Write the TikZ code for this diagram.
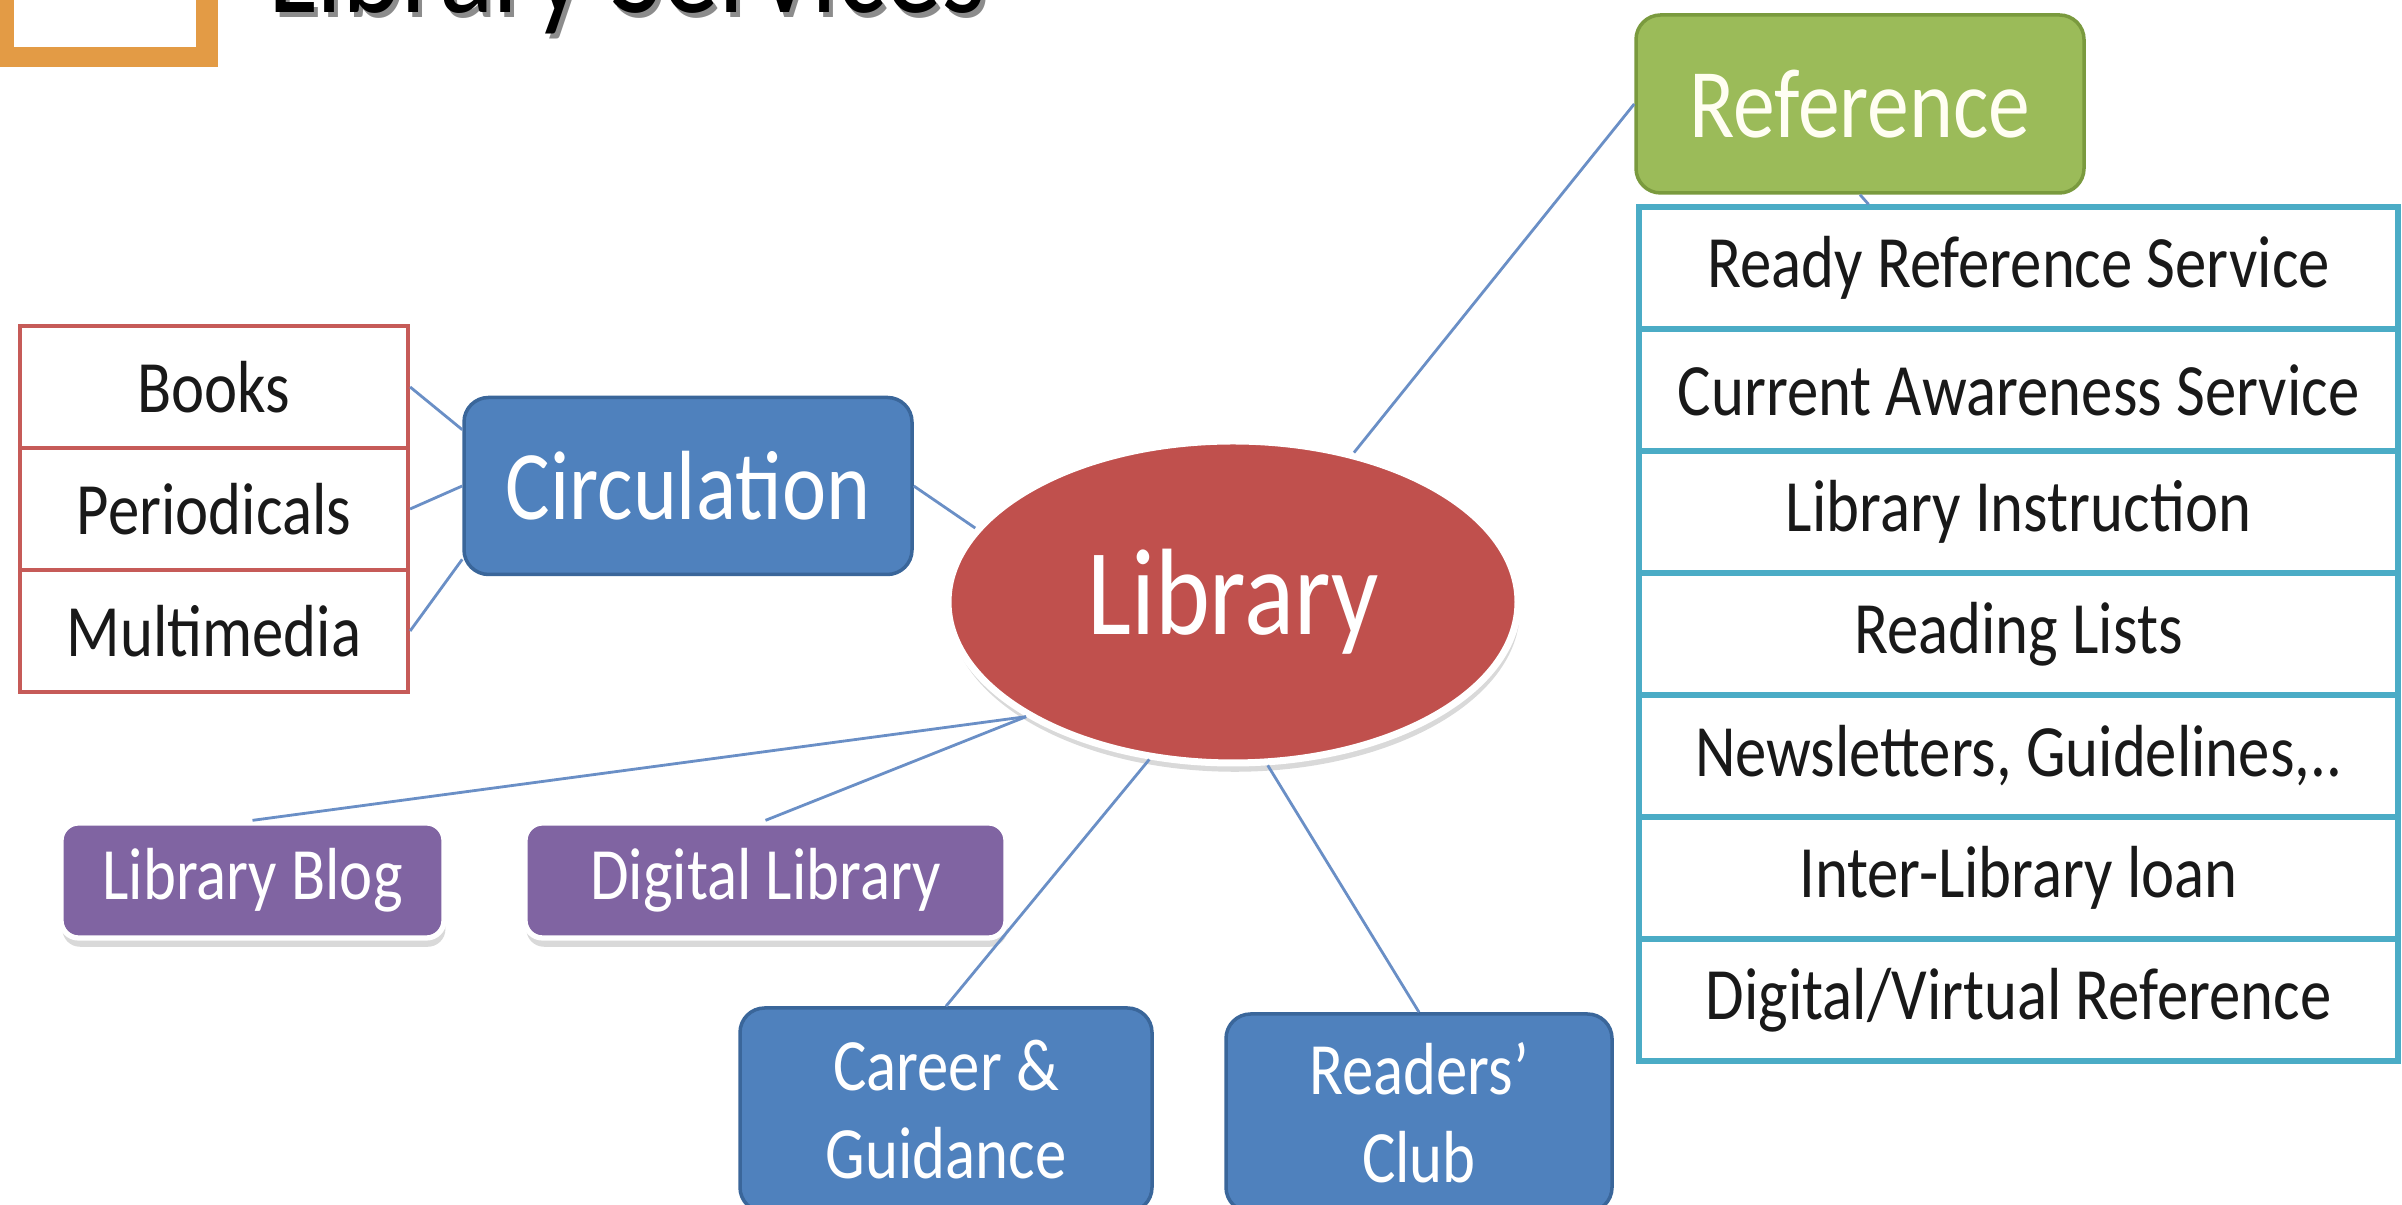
\documentclass[tikz,border=0pt]{standalone}
\usepackage{fontspec}
\setmainfont[FakeStretch=0.85]{Carlito}
\usetikzlibrary{shapes.geometric,shadows}

\definecolor{circblue}{HTML}{4F81BD}
\definecolor{circedge}{HTML}{3A669A}
\definecolor{libred}{HTML}{C0504D}
\definecolor{refgreen}{HTML}{9BBB59}
\definecolor{refedge}{HTML}{7A9A3E}
\definecolor{webpurple}{HTML}{8064A2}
\definecolor{listcyan}{HTML}{4BACC6}
\definecolor{listred}{HTML}{C65B58}
\definecolor{linkblue}{HTML}{6A8FC6}
\definecolor{frameorange}{HTML}{E39B45}

\begin{document}
\begin{tikzpicture}[
    bigfont/.style={font=\fontsize{28}{32}\selectfont},
    smallfont/.style={font=\fontsize{21}{25}\selectfont},
    bluebox/.style={rectangle, rounded corners=7pt, fill=circblue, draw=circedge, line width=1pt,
        text=white, inner sep=0pt, align=center},
    webbox/.style={rectangle, rounded corners=5pt, fill=webpurple, draw=white, line width=1.5pt,
        text=white, inner sep=0pt, smallfont, minimum height=1.15cm,
        drop shadow={shadow xshift=0.4pt, shadow yshift=-2.5pt, opacity=0.3}},
    circitem/.style={rectangle, draw=listred, line width=1.2pt, fill=white, text=black!90,
        inner sep=0pt, smallfont, minimum width=3.88cm, minimum height=1.22cm},
    refitem/.style={rectangle, draw=listcyan, line width=1.5pt, fill=white, text=black!90,
        inner sep=0pt, smallfont, minimum width=7.59cm, minimum height=1.22cm},
    link/.style={draw=linkblue, line width=0.8pt}
  ]
  \useasboundingbox (0,0) rectangle (24.02,12.05);

  \fill[frameorange] (-0.1,11.38) rectangle (2.18,12.2);
  \fill[white] (0.14,11.58) rectangle (1.96,12.2);
  \node[anchor=base west, text=black!45, font=\fontsize{38}{42}\selectfont] (titleshadow) at (2.6,11.87) {Library Services};
  \node[anchor=base west, text=black, font=\fontsize{38}{42}\selectfont] (title) at (2.56,11.92) {Library Services};

  \node[ellipse, fill=libred, draw=white, line width=2pt, text=white, inner sep=0pt,
    minimum width=5.7cm, minimum height=3.22cm, font=\fontsize{35}{40}\selectfont,
    drop shadow={shadow xshift=0.5pt, shadow yshift=-2.5pt, opacity=0.3}] (lib) at (12.33,6.03) {Library};

  \node[bluebox, bigfont, minimum width=4.48cm, minimum height=1.77cm] (circ) at (6.88,7.19) {Circulation};
  \node[bluebox, bigfont, fill=refgreen, draw=refedge, text=white!95!yellow,
    minimum width=4.48cm, minimum height=1.78cm] (ref) at (18.60,11.01) {Reference};

  \node[circitem] (books) at (2.14,8.18) {Books};
  \node[circitem] (period) at (2.14,6.96) {Periodicals};
  \node[circitem] (multi) at (2.14,5.74) {Multimedia};

  \foreach \txt [count=\i] in {Ready Reference Service, Current Awareness Service,
      Library Instruction, Reading Lists, {Newsletters, Guidelines,..},
      Inter-Library loan, Digital/Virtual Reference}
    \node[refitem] (rs\i) at (20.185,{9.37-1.22*(\i-1)}) {\txt};

  \node[webbox, minimum width=3.83cm] (blog) at (2.525,3.245) {Library Blog};
  \node[webbox, minimum width=4.81cm] (dlib) at (7.655,3.245) {Digital Library};

  \node[bluebox, smallfont, minimum width=4.12cm, minimum height=2.04cm] (career) at (9.46,0.95) {Career \&\\Guidance};
  \node[bluebox, smallfont, minimum width=3.86cm, minimum height=1.98cm] (readers) at (14.19,0.92) {Readers’\\Club};

  \draw[link] (books.east) -- (circ.166);
  \draw[link] (period.east) -- (circ.west);
  \draw[link] (multi.east) -- (circ.198);
  \draw[link] (circ.east) -- (lib.164);
  \draw[link] (lib.51) -- (ref.west);
  \draw[link] (ref.south) -- (rs1.157);
  \draw[link] (lib.209) -- (blog.north);
  \draw[link] (lib.209) -- (dlib.north);
  \draw[link] (lib.242) -- (career.north);
  \draw[link] (lib.-78) -- (readers.north);
\end{tikzpicture}
\end{document}
